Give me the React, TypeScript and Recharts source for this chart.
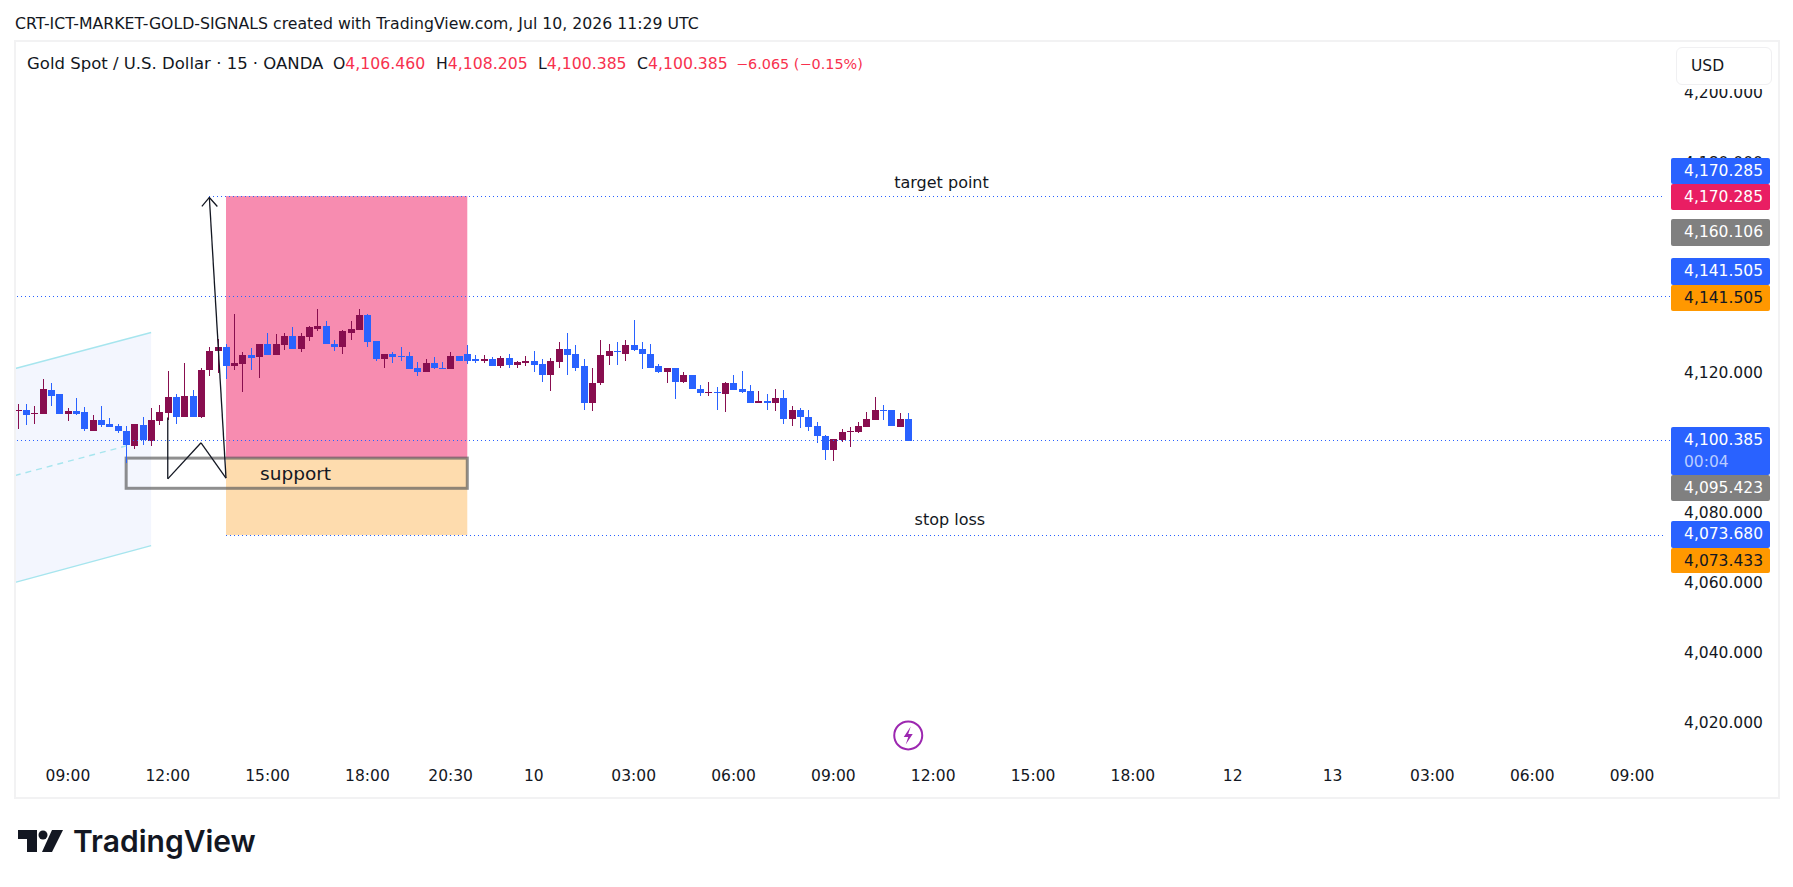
import {
  Area,
  Bar,
  ComposedChart,
  ReferenceArea,
  ReferenceDot,
  ReferenceLine,
  XAxis,
  YAxis,
} from 'recharts';

const opens = [
  4108.8, 4109.1, 4107.9, 4107.9, 4114.8, 4113.6, 4107.9, 4108.8, 4108.5, 4103.3,
  4106.2, 4105.3, 4104.5, 4103.3, 4098.8, 4104.8, 4100.2, 4105.9, 4108.2, 4112.8,
  4107.1, 4113.3, 4107.3, 4120.5, 4125.9, 4127.3, 4121.6, 4122.2, 4124.8, 4124.2,
  4127.9, 4124.8, 4127.6, 4130.2, 4126.5, 4129.9, 4132.2, 4133.3, 4127.9, 4127.3,
  4131.3, 4131.9, 4136.2, 4128.8, 4123.6, 4125.3, 4124.5, 4124.5, 4121.1, 4119.9,
  4122.5, 4121.3, 4120.8, 4124.5, 4125.1, 4123.6, 4123.1, 4123.6, 4121.6, 4123.9,
  4121.9, 4122.5, 4123.3, 4122.2, 4119.3, 4122.8, 4126.5, 4125.1, 4121.6, 4111.3,
  4116.8, 4124.5, 4125.9, 4125.3, 4127.6, 4126.5, 4125.3, 4121.6, 4119.9, 4121.1,
  4117.3, 4119.3, 4115.3, 4113.9, 4114.2, 4113.6, 4116.8, 4115.3, 4114.5, 4111.3,
  4111.6, 4111.3, 4112.5, 4106.5, 4109.1, 4107.3, 4104.5, 4101.6, 4097.6, 4100.5,
  4102.8, 4102.8, 4104.2, 4106.2, 4109.3, 4109.1, 4104.2, 4106.46,
];
const highs = [
  4111.0, 4111.0, 4110.4, 4117.9, 4116.8, 4113.8, 4109.6, 4112.5, 4109.9, 4107.6,
  4110.2, 4106.8, 4105.2, 4104.5, 4105.1, 4107.3, 4109.6, 4110.5, 4120.2, 4113.6,
  4122.5, 4114.8, 4121.3, 4127.3, 4129.5, 4127.9, 4136.5, 4125.6, 4126.8, 4127.9,
  4131.1, 4130.8, 4131.3, 4132.8, 4131.3, 4133.1, 4137.9, 4134.5, 4129.1, 4131.9,
  4134.5, 4137.9, 4136.5, 4128.8, 4125.3, 4125.6, 4127.1, 4125.6, 4122.8, 4123.6,
  4124.2, 4122.8, 4125.6, 4124.5, 4127.6, 4124.8, 4124.8, 4124.2, 4124.5, 4125.1,
  4123.1, 4124.5, 4125.9, 4123.6, 4123.9, 4128.5, 4131.1, 4127.6, 4123.6, 4121.3,
  4129.1, 4127.9, 4128.5, 4129.1, 4134.8, 4128.5, 4127.9, 4122.2, 4121.1, 4121.3,
  4119.9, 4119.3, 4116.2, 4117.3, 4115.6, 4117.1, 4119.3, 4120.2, 4116.2, 4114.5,
  4113.6, 4115.3, 4114.8, 4110.2, 4109.6, 4109.1, 4105.6, 4101.9, 4100.8, 4103.6,
  4104.2, 4105.6, 4108.5, 4112.8, 4110.5, 4109.1, 4108.2, 4108.205,
];
const lows = [
  4103.6, 4104.8, 4105.2, 4107.9, 4110.2, 4107.9, 4105.9, 4107.6, 4103.3, 4103.1,
  4104.2, 4104.2, 4102.5, 4093.9, 4097.9, 4099.1, 4098.8, 4104.8, 4106.2, 4105.1,
  4107.1, 4107.3, 4106.8, 4118.8, 4119.6, 4117.9, 4120.5, 4114.2, 4120.5, 4118.2,
  4124.8, 4124.8, 4126.2, 4126.5, 4125.6, 4128.8, 4131.6, 4127.9, 4125.9, 4125.1,
  4129.3, 4131.9, 4127.3, 4123.1, 4121.3, 4122.5, 4123.1, 4120.8, 4118.8, 4119.9,
  4120.8, 4120.8, 4120.8, 4123.1, 4122.2, 4122.5, 4122.5, 4121.6, 4121.3, 4121.3,
  4121.1, 4121.6, 4119.9, 4117.1, 4114.5, 4121.3, 4119.1, 4120.2, 4109.1, 4108.8,
  4116.2, 4121.9, 4121.9, 4123.3, 4125.9, 4120.8, 4121.1, 4119.6, 4116.8, 4112.2,
  4116.8, 4115.1, 4113.1, 4113.1, 4109.3, 4108.5, 4114.8, 4113.9, 4111.1, 4111.3,
  4109.1, 4108.8, 4105.3, 4104.5, 4103.9, 4103.3, 4099.6, 4094.8, 4094.5, 4099.9,
  4098.5, 4102.5, 4104.2, 4106.2, 4106.2, 4104.5, 4104.2, 4100.385,
];
const closes = [
  4109.1, 4107.6, 4108.2, 4115.1, 4113.3, 4107.9, 4108.8, 4108.1, 4103.6, 4106.2,
  4104.8, 4104.2, 4103.1, 4099.1, 4105.1, 4100.5, 4106.2, 4108.5, 4112.8, 4107.1,
  4113.1, 4107.3, 4120.5, 4125.9, 4127.3, 4121.6, 4122.5, 4124.8, 4123.9, 4127.9,
  4124.8, 4127.9, 4130.2, 4126.5, 4130.2, 4132.8, 4133.3, 4127.9, 4127.3, 4131.6,
  4132.2, 4136.2, 4128.5, 4123.6, 4125.3, 4124.2, 4124.2, 4120.8, 4119.9, 4122.5,
  4121.1, 4121.1, 4124.5, 4123.3, 4123.3, 4123.1, 4123.6, 4121.6, 4123.9, 4121.9,
  4122.8, 4123.3, 4121.9, 4119.3, 4123.1, 4126.5, 4124.8, 4121.3, 4111.3, 4116.8,
  4124.8, 4125.9, 4125.6, 4127.6, 4126.2, 4125.1, 4121.3, 4119.9, 4121.1, 4117.3,
  4119.3, 4115.1, 4113.9, 4114.2, 4113.9, 4116.8, 4114.8, 4114.2, 4111.3, 4111.6,
  4111.3, 4112.5, 4106.5, 4109.1, 4107.1, 4104.2, 4101.6, 4097.6, 4100.8, 4102.8,
  4103.1, 4104.5, 4106.5, 4109.3, 4108.8, 4104.5, 4106.5, 4100.385,
];

// axis: bar slot -> label
const tickSlots = [7, 19, 31, 43, 53, 63, 75, 87, 99, 111, 123, 135, 147, 159, 171, 183, 195];
const tickLabels = [
  '09:00', '12:00', '15:00', '18:00', '20:30', '10', '03:00', '06:00', '09:00',
  '12:00', '15:00', '18:00', '12', '13', '03:00', '06:00', '09:00',
];
const priceTicks = [4020, 4040, 4060, 4080, 4120, 4180, 4200];

// long position drawing
const targetPrice = 4170.285;
const entryPrice = 4095.423;
const stopPrice = 4073.433;
const upperLevel = 4141.505;
const lastPrice = 4100.385;

// channel edges at slot 0 and slot 17
const channelUpper = [4120.6, 4131.3];
const channelLower = [4059.5, 4070.4];
const channelMid = [4090.05, 4098.9];

// sketch lines: [slot, price] in drawing order
const sketchSlots = [19, 19, 23, 26, 24];
const sketchPrices = [4107.0, 4089.5, 4099.8, 4089.7, 4169.9];

const tagTexts = [
  '4,170.285', '4,170.285', '4,160.106', '4,141.505', '4,141.505',
  '4,100.385', '4,095.423', '4,073.680', '4,073.433',
];
const legendValues = ['4,106.460', '4,108.205', '4,100.385', '4,100.385'];
const legendNames = ['O', 'H', 'L', 'C'];

const BLUE = '#2962ff';
const MAROON = '#880e4f';
const FONT = '"DejaVu Sans", sans-serif';
const TEXT = '#131722';
const RED = '#f7314e';
const SLOT_COUNT = 200;
const BAND = 8.32;

const LEGEND_LEFT = [333, 436, 538, 637];

const TAG_STYLES = [
  { top: 158, height: 26, background: BLUE, color: '#fff' },
  { top: 184, height: 26, background: '#e91e63', color: '#fff' },
  { top: 219, height: 27, background: '#808080', color: '#fff' },
  { top: 258, height: 27, background: BLUE, color: '#fff' },
  { top: 285, height: 26, background: '#ff9800', color: '#131722' },
  { top: 427, height: 48, background: BLUE, color: '#fff' },
  { top: 475, height: 26, background: '#808080', color: '#fff' },
  { top: 521, height: 27, background: BLUE, color: '#fff' },
  { top: 548, height: 25, background: '#ff9800', color: '#131722' },
];

const rows = Array.from({ length: SLOT_COUNT }, (_, slot) => {
  const i = slot - 1;
  const hasCandle = i >= 0 && i < opens.length;
  return {
    slot,
    open: hasCandle ? opens[i] : null,
    high: hasCandle ? highs[i] : null,
    low: hasCandle ? lows[i] : null,
    close: hasCandle ? closes[i] : null,
    range: hasCandle ? [lows[i], highs[i]] : null,
    channel:
      slot === 0
        ? [channelLower[0], channelUpper[0]]
        : slot === 17
          ? [channelLower[1], channelUpper[1]]
          : null,
  };
});

function Candle(props: any) {
  const { x, y, width, height, payload } = props;
  if (payload.high == null || !height) return null;
  const { open, high, low, close } = payload;
  const perUnit = height / (high - low);
  const top = y + (high - Math.max(open, close)) * perUnit;
  const bodyH = Math.max(Math.abs(open - close) * perUnit, 1);
  const left = Math.round(x);
  const fill = close >= open ? MAROON : BLUE;
  return (
    <g shapeRendering='crispEdges'>
      <rect x={left + Math.floor(width / 2)} y={y} width={1} height={height} fill={fill} />
      <rect x={left} y={top} width={width} height={bodyH} fill={fill} />
    </g>
  );
}

// ReferenceArea covers whole bands, the drawings run from bar centre to bar centre
function CenteredRect(props: any) {
  const { x, y, width, height, fill, stroke, strokeOpacity, strokeWidth } = props;
  return (
    <rect
      x={x + BAND / 2}
      y={y}
      width={width - BAND}
      height={height}
      fill={fill}
      stroke={stroke}
      strokeOpacity={strokeOpacity}
      strokeWidth={strokeWidth}
    />
  );
}

function ArrowLine(props: any) {
  const { x1, y1, x2, y2 } = props;
  return (
    <g stroke='#131722' strokeWidth={1.3} fill='none'>
      <line x1={x1} y1={y1} x2={x2} y2={y2} />
      <path d={`M${x2 - 7.5} ${y2 + 9}L${x2} ${y2}L${x2 + 8} ${y2 + 9}`} />
    </g>
  );
}

function BoltIcon(props: any) {
  const { cx, cy } = props;
  return (
    <g>
      <circle cx={cx} cy={cy} r={14} fill='#fff' stroke='#9c27b0' strokeWidth={2} />
      <path
        d={`M${cx + 2.5} ${cy - 9}L${cx - 4.5} ${cy + 1.5}H${cx}L${cx - 2.5} ${cy + 9}L${cx + 4.5} ${cy - 1.5}H${cx}Z`}
        fill='#9c27b0'
      />
    </g>
  );
}

const dotted = {
  stroke: BLUE,
  strokeWidth: 1,
  strokeDasharray: '1 3',
  shapeRendering: 'crispEdges',
};

export default function App() {
  const lastSlot = SLOT_COUNT - 1;
  return (
    <div
      style={{
        position: 'absolute',
        left: 0,
        top: 0,
        width: 1793,
        height: 887,
        background: '#fff',
        overflow: 'hidden',
        fontFamily: FONT,
        color: TEXT,
      }}
    >
      <ComposedChart
        width={1793}
        height={887}
        data={rows}
        margin={{ top: 42.4, right: 0, bottom: 87.6, left: 5.52 }}
        style={{ position: 'absolute', left: 0, top: 0 }}
      >
        <XAxis
          dataKey='slot'
          type='category'
          ticks={tickSlots}
          interval={0}
          height={47}
          axisLine={false}
          tickLine={false}
          tickMargin={12}
          tick={{ fill: TEXT, fontSize: 15.5, fontFamily: FONT }}
          tickFormatter={(slot: number) => tickLabels[tickSlots.indexOf(slot)]}
        />
        <YAxis
          orientation='right'
          width={123.48}
          domain={[4011.34, 4214.2]}
          ticks={priceTicks}
          allowDataOverflow
          axisLine={false}
          tickLine={false}
          tickMargin={8.5}
          tick={{ fill: TEXT, fontSize: 15.5, fontFamily: FONT }}
          tickFormatter={(v: number) =>
            v.toLocaleString('en-US', { minimumFractionDigits: 3 })
          }
        />

        <ReferenceArea x1={26} x2={55} y1={entryPrice} y2={targetPrice} fill='#f78cb0' stroke='none' shape={CenteredRect} />
        <ReferenceArea x1={26} x2={55} y1={stopPrice} y2={entryPrice} fill='#fedcae' stroke='none' shape={CenteredRect} />

        <Area
          dataKey='channel'
          type='linear'
          connectNulls
          fill='#f3f6fe'
          fillOpacity={1}
          stroke='#a6e5ee'
          strokeWidth={1.4}
          dot={false}
          activeDot={false}
          isAnimationActive={false}
        />
        <ReferenceLine
          segment={[{ x: 0, y: channelMid[0] }, { x: 14, y: channelMid[1] }]}
          stroke='#a6e5ee'
          strokeWidth={1.4}
          strokeDasharray='6 5'
          strokeDashoffset={5.7}
        />

        <ReferenceLine y={upperLevel} {...dotted} />
        <ReferenceLine y={lastPrice} {...dotted} />
        <ReferenceLine segment={[{ x: 24, y: targetPrice }, { x: lastSlot, y: targetPrice }]} {...dotted} />
        <ReferenceLine segment={[{ x: 26, y: stopPrice }, { x: lastSlot, y: stopPrice }]} {...dotted} />

        <Bar dataKey='range' barSize={7} shape={Candle} isAnimationActive={false} />

        <ReferenceArea
          x1={14}
          x2={55}
          y1={4086.8}
          y2={entryPrice}
          fill='none'
          stroke='#5a5a5a'
          strokeOpacity={0.68}
          strokeWidth={3}
          shape={CenteredRect}
        />

        {sketchSlots.slice(0, 3).map((slot, i) => (
          <ReferenceLine
            key={i}
            segment={[
              { x: slot, y: sketchPrices[i] },
              { x: sketchSlots[i + 1], y: sketchPrices[i + 1] },
            ]}
            stroke='#131722'
            strokeWidth={1.3}
          />
        ))}
        <ReferenceLine
          segment={[
            { x: sketchSlots[3], y: sketchPrices[3] },
            { x: sketchSlots[4], y: sketchPrices[4] },
          ]}
          shape={ArrowLine}
        />

        <ReferenceDot
          x={34}
          y={4091}
          r={0}
          fill='none'
          stroke='none'
          label={{ value: 'support', position: 'center', fill: TEXT, fontSize: 18.5, fontFamily: FONT, dx: 3 }}
        />
        <ReferenceDot
          x={112}
          y={4174.3}
          r={0}
          fill='none'
          stroke='none'
          label={{ value: 'target point', position: 'center', fill: TEXT, fontSize: 16, fontFamily: FONT }}
        />
        <ReferenceDot
          x={113}
          y={4078}
          r={0}
          fill='none'
          stroke='none'
          label={{ value: 'stop loss', position: 'center', fill: TEXT, fontSize: 16, fontFamily: FONT }}
        />
        <ReferenceDot x={108} y={4016.2} shape={BoltIcon} />
      </ComposedChart>

      {/* gutter left of the pane */}
      <div style={{ position: 'absolute', left: 0, top: 30, width: 14, height: 780, background: '#fff' }} />
      <div
        style={{
          position: 'absolute',
          left: 14,
          top: 40,
          width: 1762,
          height: 755,
          border: '2px solid #f2f2f3',
          boxSizing: 'content-box',
          pointerEvents: 'none',
        }}
      />

      <div style={{ position: 'absolute', left: 15, top: 14, fontSize: 15.73, lineHeight: '20px', whiteSpace: 'nowrap' }}>
        CRT-ICT-MARKET-GOLD-SIGNALS created with TradingView.com, Jul 10, 2026 11:29 UTC
      </div>

      <div style={{ position: 'absolute', left: 27, top: 53, fontSize: 16.5, lineHeight: '22px', whiteSpace: 'nowrap' }}>
        Gold Spot / U.S. Dollar · 15 · OANDA
      </div>
      {legendNames.map((name, i) => (
        <div
          key={name}
          style={{
            position: 'absolute',
            left: LEGEND_LEFT[i],
            top: 53,
            fontSize: 15.7,
            lineHeight: '22px',
            whiteSpace: 'nowrap',
          }}
        >
          {name}
          <span style={{ color: RED }}>{legendValues[i]}</span>
        </div>
      ))}
      <div style={{ position: 'absolute', left: 736, top: 53, fontSize: 14.4, lineHeight: '22px', color: RED, whiteSpace: 'nowrap' }}>
        −6.065 (−0.15%)
      </div>

      {/* button hides the top of the highest price tick */}
      <div style={{ position: 'absolute', left: 1676, top: 47, width: 98, height: 42, background: '#fff' }} />
      <div
        style={{
          position: 'absolute',
          left: 1676,
          top: 47,
          width: 96,
          height: 38,
          boxSizing: 'border-box',
          border: '1px solid #f0f0f2',
          borderRadius: 6,
          background: '#fff',
          fontSize: 15.5,
          lineHeight: '36px',
          paddingLeft: 14,
        }}
      >
        USD
      </div>

      {tagTexts.map((text, i) => (
        <div
          key={i}
          style={{
            position: 'absolute',
            left: 1671,
            width: 99,
            boxSizing: 'border-box',
            top: TAG_STYLES[i].top,
            height: TAG_STYLES[i].height,
            background: TAG_STYLES[i].background,
            color: TAG_STYLES[i].color,
            borderRadius: 2,
            fontSize: 15.5,
            lineHeight: '26px',
            textAlign: 'right',
            paddingRight: 7,
          }}
        >
          {text}
          {i === 5 && (
            <div style={{ color: '#b9ccff', lineHeight: '18px', textAlign: 'left', paddingLeft: 13 }}>00:04</div>
          )}
        </div>
      ))}

      <svg style={{ position: 'absolute', left: 18, top: 830 }} width={46} height={23}>
        <path d='M0 0H19V22H9V9H0Z' fill='#131722' />
        <circle cx={25} cy={5} r={4.5} fill='#131722' />
        <path d='M34 0H45L34 22H24Z' fill='#131722' />
      </svg>
      <div
        style={{
          position: 'absolute',
          left: 73,
          top: 821,
          fontFamily: 'Inter, sans-serif',
          fontWeight: 600,
          fontSize: 30,
          lineHeight: '40px',
          whiteSpace: 'nowrap',
        }}
      >
        TradingView
      </div>
    </div>
  );
}
